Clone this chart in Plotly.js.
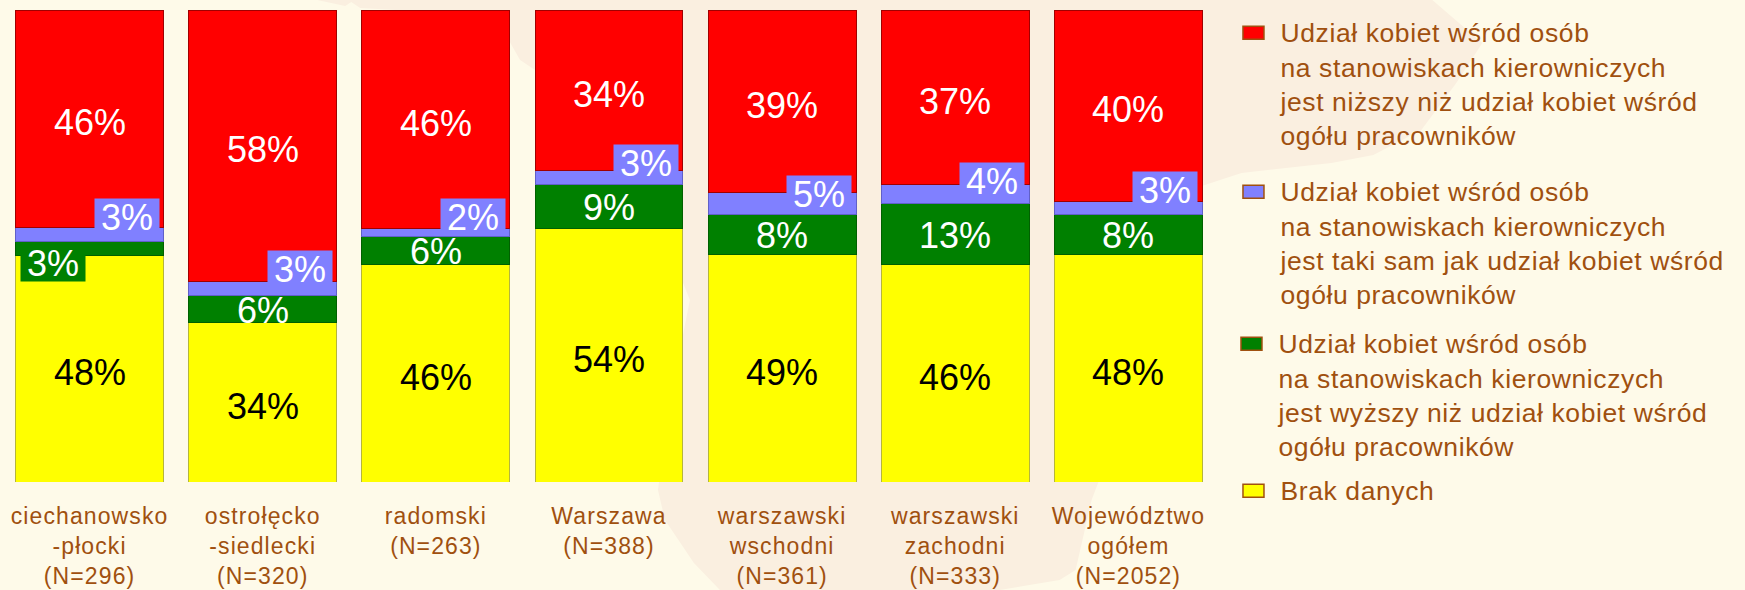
<!DOCTYPE html>
<html><head><meta charset="utf-8">
<script src="https://cdn.plot.ly/plotly-3.0.1.min.js"></script>
<style>
html,body{margin:0;padding:0;background:#FEFAE9;}
.legendtext,.legend2text,.legend3text,.legend4text{letter-spacing:0.6px;}
.xtick text{letter-spacing:1.1px;}
</style></head><body><div id="c" style="width:1745px;height:590px"></div>
<script>
const categories=["ciechanowsko<br>-płocki<br>(N=296)","ostrołęcko<br>-siedlecki<br>(N=320)","radomski<br>(N=263)","Warszawa<br>(N=388)","warszawski<br>wschodni<br>(N=361)","warszawski<br>zachodni<br>(N=333)","Województwo<br>ogółem<br>(N=2052)"];
const braku=[47.9,33.7,46.0,53.8,48.3,46.0,48.3];
const wyzszy=[3.0,5.9,6.1,9.2,8.3,13.0,8.3];
const takiSam=[3.0,2.9,1.7,3.1,4.7,4.0,2.8];
const nizszy=[46.1,57.5,46.2,33.9,38.7,37.0,40.6];
const labelBraku=["48%","34%","46%","54%","49%","46%","48%"];
const labelWyzszy=["3%","6%","6%","9%","8%","13%","8%"];
const labelTakiSam=["3%","3%","2%","3%","5%","4%","3%"];
const labelNizszy=["46%","58%","46%","34%","39%","37%","40%"];
const names=["Brak danych",
"Udział kobiet wśród osób<br>na stanowiskach kierowniczych<br>jest wyższy niż udział kobiet wśród<br>ogółu pracowników",
"Udział kobiet wśród osób<br>na stanowiskach kierowniczych<br>jest taki sam jak udział kobiet wśród<br>ogółu pracowników",
"Udział kobiet wśród osób<br>na stanowiskach kierowniczych<br>jest niższy niż udział kobiet wśród<br>ogółu pracowników"];
const TXT="#A0500F";
const idx=categories.map((_,i)=>i);
function bar(y,name,color,line,leg){return {type:"bar",x:idx,y,name,legend:leg,marker:{color,line:{color:line,width:1}},hoverinfo:"skip"};}
const traces=[
 bar(braku,names[0],"#FFFF00","#B5B53C","legend4"),
 bar(wyzszy,names[1],"#008000","#006000","legend3"),
 bar(takiSam,names[2],"#8080FF","#6060C8","legend2"),
 bar(nizszy,names[3],"#FF0000","#A00000","legend")
];
const ann=[];
const lift=[18,19,15,14,10,13,18];
idx.forEach(i=>{
 const a=braku[i],b=a+wyzszy[i],c=b+takiSam[i],d=c+nizszy[i];
 ann.push({x:i,y:a/2,text:labelBraku[i],font:{color:"#000"},yshift:-4});
 if(i===0) ann.push({x:i,y:(a+b)/2,text:labelWyzszy[i],font:{color:"#fff"},bgcolor:"#008000",width:64,height:36,xshift:-37,yshift:-14});
 else ann.push({x:i,y:(a+b)/2,text:labelWyzszy[i],font:{color:"#fff"},yshift:-1});
 ann.push({x:i,y:(b+c)/2,text:labelTakiSam[i],font:{color:"#fff"},bgcolor:"#8080FF",width:64,height:36,xshift:37,yshift:lift[i]});
 ann.push({x:i,y:(c+d)/2,text:labelNizszy[i],font:{color:"#fff"},yshift:-4});
});
ann.forEach(o=>{o.xref="x";o.yref="y";o.showarrow=false;o.borderpad=0;o.font.size=36;o.font.family="Liberation Sans";});
const lg=(x,y)=>({x,y,xref:"paper",yref:"paper",xanchor:"left",yanchor:"top",valign:"top",bgcolor:"rgba(0,0,0,0)",font:{size:26.5,color:TXT,family:"Liberation Sans"},itemclick:false,itemdoubleclick:false});
const W=1745,H=590;
const L=2.5,PW=1213,T=10,PH=472;
const fx=p=>(p-L)/PW, fy=p=>1-(p-T)/PH;
const mapOutline=[[317,0],[345,6],[351,2],[360,8],[430,12],[500,25],[520,60],[535,70],[560,100],[640,150],[670,250],[690,300],[670,400],[658,490],[665,520],[694,563],[720,590],[1000,590],[1060,580],[1076,570],[1092,500],[1130,400],[1190,190],[1242,173],[1332,163],[1374,155],[1422,130],[1457,83],[1483,43],[1433,0]];
const mapPath=mapOutline.map((p,i)=>(i?"L":"M")+fx(p[0]).toFixed(5)+","+fy(p[1]).toFixed(5)).join("")+"Z";
const layout={width:W,height:H,margin:{l:L,r:W-L-PW,t:T,b:H-T-PH,pad:0},paper_bgcolor:"#FEFAE9",plot_bgcolor:"rgba(0,0,0,0)",barmode:"stack",bargap:0.146,showlegend:true,
 font:{family:"Liberation Sans",color:TXT},
 xaxis:{range:[-0.5,6.5],tickmode:"array",tickvals:idx,ticktext:categories,showline:false,ticks:"",showgrid:false,zeroline:false,tickfont:{size:23,color:TXT,family:"Liberation Sans"},ticklabelstandoff:18},
 yaxis:{range:[0,100],visible:false,fixedrange:true},
 legend:lg(1,0),legend2:lg(1,0),legend3:lg(1,0),legend4:lg(1,0),
 annotations:ann,
 shapes:[{type:"path",xref:"paper",yref:"paper",path:mapPath,fillcolor:"#FAEFE0",line:{width:0},layer:"below"}]
};
[["legend",1241,8],["legend2",1241,167],["legend3",1239,319],["legend4",1241,466]].forEach(([k,px,py])=>{layout[k].x=fx(px);layout[k].y=fy(py);});
Plotly.newPlot("c",traces,layout,{displayModeBar:false}).then(()=>{
 document.querySelectorAll("g.legendpoints path").forEach(p=>{p.setAttribute("d","M3.5,7.5H-17.5V-5.5H3.5Z");p.style.stroke="#A0500F";p.style.strokeWidth="1.5px";});
});
</script></body></html>
